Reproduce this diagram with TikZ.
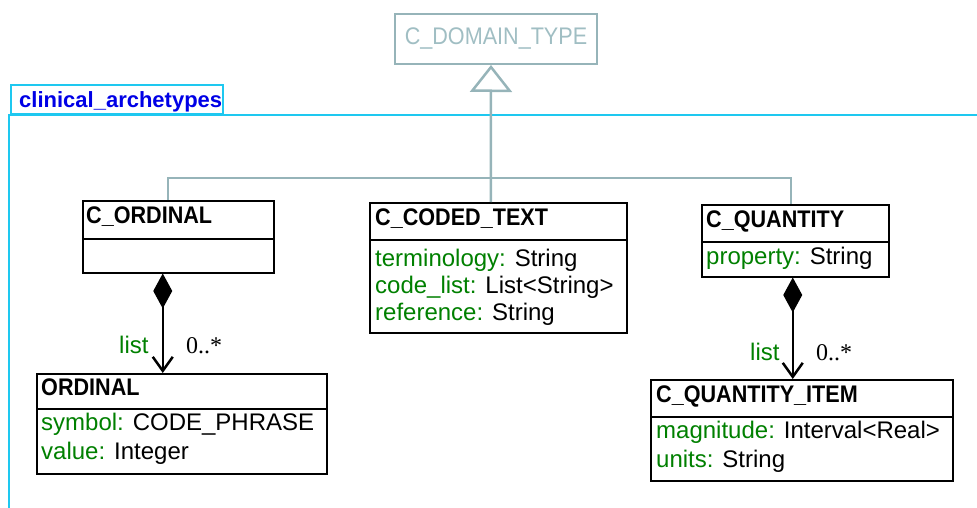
\documentclass[tikz,border=0pt]{standalone}
\usepackage{fontspec}
\setmainfont{Liberation Sans}
\newfontfamily\titlefont[FakeStretch=0.9]{Liberation Sans}
\newfontfamily\serifont{Liberation Serif}
\usetikzlibrary{arrows.meta}
\definecolor{umlgrey}{RGB}{150,180,185}
\definecolor{umlgreytext}{RGB}{160,190,195}
\definecolor{pkgline}{RGB}{30,200,240}
\definecolor{pkgtext}{RGB}{0,0,230}
\definecolor{umlgreen}{RGB}{0,128,0}
\tikzset{
  classbox/.style={draw=black, line width=1.5pt, fill=white, anchor=north west, inner sep=0pt},
  sepline/.style={draw=black, line width=1.2pt},
  ttl/.style={anchor=base west, inner sep=0pt, font=\titlefont\bfseries\fontsize{24}{28}\selectfont},
  attr/.style={anchor=base west, inner sep=0pt, font=\fontsize{24}{28}\selectfont},
  gen/.style={draw=umlgrey, line width=2.5pt},
  comp/.style={draw=black, line width=2.5pt, {Diamond[length=35pt,width=19pt]}-{Straight Barb[length=14pt,width=20pt,line width=2.5pt]}},
  role/.style={anchor=base west, inner sep=0pt, text=umlgreen, font=\fontsize{24}{28}\selectfont},
  mult/.style={anchor=base west, inner sep=0pt, font=\serifont\fontsize{24}{28}\selectfont},
}
\begin{document}
\begin{tikzpicture}[x=1pt,y=-1pt]
\useasboundingbox (0,0) rectangle (977,508);
% package
\draw[pkgline, line width=2pt] (11,85) rectangle (223,114);
\draw[pkgline, line width=2pt] (9,508) -- (9,115) -- (977,115);
\node[anchor=base west, inner sep=0pt, text=pkgtext, font=\bfseries\fontsize{22}{26}\selectfont] (pkg) at (19,108) {clinical\_archetypes};
% C_DOMAIN_TYPE
\node[draw=umlgrey, line width=2pt, anchor=north west, minimum width=202pt, minimum height=50pt, inner sep=0pt, text=umlgreytext, font=\titlefont\fontsize{24}{28}\selectfont] (cdt) at (394,13) {C\_DOMAIN\_TYPE};
% C_ORDINAL
\node[classbox, minimum width=191pt, minimum height=72pt] (cord) at (82,200) {};
\draw[sepline] (82,239) -- (273,239);
\node[ttl] (cordt) at (86,223) {C\_ORDINAL};
% C_CODED_TEXT
\node[classbox, minimum width=257pt, minimum height=130pt] (cot) at (369,202) {};
\draw[sepline] (369,240) -- (626,240);
\node[ttl] (cott) at (375,225) {C\_CODED\_TEXT};
\node[attr] (cota1) at (375,266) {\textcolor{umlgreen}{terminology:} String};
\node[attr] (cota2) at (375,293) {\textcolor{umlgreen}{code\_list:} List<String>};
\node[attr] (cota3) at (375,320) {\textcolor{umlgreen}{reference:} String};
% C_QUANTITY
\node[classbox, minimum width=187pt, minimum height=72pt] (cq) at (701,204) {};
\draw[sepline] (701,242) -- (888,242);
\node[ttl] (cqt) at (706,227) {C\_QUANTITY};
\node[attr] (cqa1) at (706,264) {\textcolor{umlgreen}{property:} String};
% ORDINAL
\node[classbox, minimum width=290pt, minimum height=100pt] (ord) at (36,373) {};
\draw[sepline] (36,409) -- (326,409);
\node[ttl] (ordt) at (41,395) {ORDINAL};
\node[attr] (orda1) at (41,430) {\textcolor{umlgreen}{symbol:} CODE\_PHRASE};
\node[attr] (orda2) at (41,459) {\textcolor{umlgreen}{value:} Integer};
% C_QUANTITY_ITEM
\node[classbox, minimum width=302pt, minimum height=101pt] (cqi) at (650,379) {};
\draw[sepline] (650,417) -- (952,417);
\node[ttl] (cqit) at (656,402) {C\_QUANTITY\_ITEM};
\node[attr] (cqia1) at (656,438) {\textcolor{umlgreen}{magnitude:} Interval<Real>};
\node[attr] (cqia2) at (656,467) {\textcolor{umlgreen}{units:} String};
% generalisation
\draw[gen, -{Triangle[open, length=27pt, width=42pt, line width=2.5pt, fill=white]}] ([xshift=-7.5pt]cot.north) -- ([xshift=-5pt]cdt.south);
\draw[gen] ([xshift=-10.5pt]cord.north) -- ++(0,-22) -| ([xshift=-4.5pt]cq.north);
% compositions
\draw[comp] ([xshift=-15.5pt]cord.south) -- ([xshift=-19pt]ord.north);
\draw[comp] ([xshift=-2.5pt]cq.south) -- ([xshift=-9pt]cqi.north);
\node[role] (r1) at (119,353) {list};
\node[mult] (m1) at (186,353) {0..*};
\node[role] (r2) at (750,360) {list};
\node[mult] (m2) at (816,360) {0..*};
\end{tikzpicture}
\end{document}
